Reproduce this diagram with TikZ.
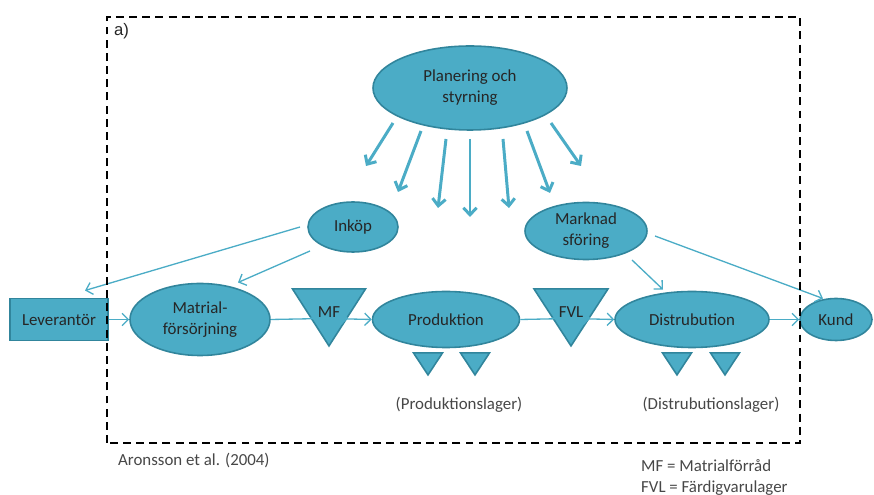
\documentclass[tikz,border=0pt]{standalone}
\usepackage{fontspec}
\setmainfont{Carlito}
\newfontfamily\arialfont{Liberation Sans}
\usetikzlibrary{shapes,arrows.meta}

\begin{document}
\begin{tikzpicture}[
		every node/.style={font=\fontsize{9.6}{12}\selectfont, text=black!85},
		flow/.style={ellipse, draw=darkteal, line width=0.9pt, fill=teal5, inner sep=0pt, align=center},
		actor/.style={rectangle, draw=darkteal, line width=0.9pt, fill=teal5, inner sep=0pt},
		stock/.style={isosceles triangle, isosceles triangle stretches, shape border rotate=-90, draw=darkteal, line width=0.9pt, fill=teal5, inner sep=0pt, anchor=apex},
		conn/.style={draw=teal5, line width=0.75pt, -{Straight Barb[length=3.5pt,width=7pt]}},
		steer/.style={draw=teal5, line width=1.7pt, -{Straight Barb[length=4pt,width=7.5pt]}},
		note/.style={text=black!72}
	]
	\definecolor{teal5}{HTML}{4BACC6}
	\definecolor{darkteal}{HTML}{31859C}
	\useasboundingbox (0,0) rectangle (17.48,9.9);
	
	% top
	\node[flow, minimum width=3.88cm, minimum height=1.68cm] (plan) at (9.40,8.14) {Planering och\\styrning};
	\node[flow, minimum width=1.80cm, minimum height=1.00cm] (inkop) at (7.06,5.36) {Inköp};
	\node[flow, minimum width=2.44cm, minimum height=1.14cm] (marknad) at (11.72,5.28) {Marknad\\sföring};
	
	% chain
	\node[actor, minimum width=1.96cm, minimum height=0.84cm] (lev) at (1.18,3.51) {Leverantör};
	\node[flow, minimum width=2.80cm, minimum height=1.44cm] (matrial) at (4.00,3.51) {Matrial-\\försörjning};
	\node[stock, minimum width=1.46cm, minimum height=1.14cm] (mf) at (6.58,2.94) {};
	\node[flow, minimum width=2.94cm, minimum height=1.12cm] (prod) at (8.92,3.51) {Produktion};
	\node[stock, minimum width=1.48cm, minimum height=1.14cm] (fvl) at (11.42,2.94) {};
	\node[flow, minimum width=3.08cm, minimum height=1.12cm] (dist) at (13.84,3.51) {Distrubution};
	\node[flow, minimum width=1.44cm, minimum height=0.84cm] (kund) at (16.72,3.51) {Kund};
	\node (mftext) at ([yshift=0.72cm]mf.apex) {MF};
	\node (fvltext) at ([yshift=0.72cm]fvl.apex) {FVL};
	
	% lager
	\foreach \x/\n in {8.56/p1, 9.50/p2, 13.54/d1, 14.50/d2}
		\node[stock, minimum width=0.58cm, minimum height=0.44cm] (lager\n) at (\x,2.36) {};
	
	\draw[conn] (lev) -- (matrial);
	\draw[conn] (matrial.east) -- (mf.left side);
	\draw[conn] (mf.right side) -- (prod.west);
	\draw[conn] (prod.east) -- (fvl.left side);
	\draw[conn] (fvl.right side) -- (dist.west);
	\draw[conn] (dist) -- (kund);
	
	\draw[conn] ([shift={(-1.06,0)}]inkop.center) -- ([shift={(0.52,0.58)}]lev.center);
	\draw[conn] ([shift={(-0.86,-0.48)}]inkop.center) -- ([shift={(0.76,0.74)}]matrial.center);
	\draw[conn] ([shift={(0.92,-0.58)}]marknad.center) -- ([shift={(-0.58,0.60)}]dist.center);
	\draw[conn] ([shift={(1.38,-0.10)}]marknad.center) -- ([shift={(-0.26,0.42)}]kund.center);
	
	% styrning
	\foreach \sx/\sy/\dx/\dy in {-1.54/-0.70/-0.54/-0.86, -0.98/-0.86/-0.46/-1.22, -0.48/-1.02/-0.16/-1.38, 0/-1.02/0/-1.56, 0.66/-1.02/0.12/-1.38, 1.14/-0.86/0.46/-1.24, 1.62/-0.70/0.60/-0.86}
		\draw[steer] ([shift={(\sx,\sy)}]plan.center) -- ++(\dx,\dy);
	
	% texts
	\node[note] (plager) at (9.18,1.80) {(Produktionslager)};
	\node[note] (dlager) at (14.22,1.80) {(Distrubutionslager)};
	\node[note, anchor=west] (source) at (2.24,0.68) {Aronsson et al. (2004)};
	\node[note, anchor=west, align=left] (legend) at (12.70,0.35) {MF = Matrialförråd\\FVL = Färdigvarulager};
	\node[anchor=west, font=\arialfont\fontsize{9.5}{11}\selectfont] (tag) at (2.16,9.28) {a)};
	
	\draw[dash pattern=on 4.5pt off 3pt, line width=0.75pt] (2.14,1.04) rectangle (16.00,9.56);
\end{tikzpicture}
\end{document}
